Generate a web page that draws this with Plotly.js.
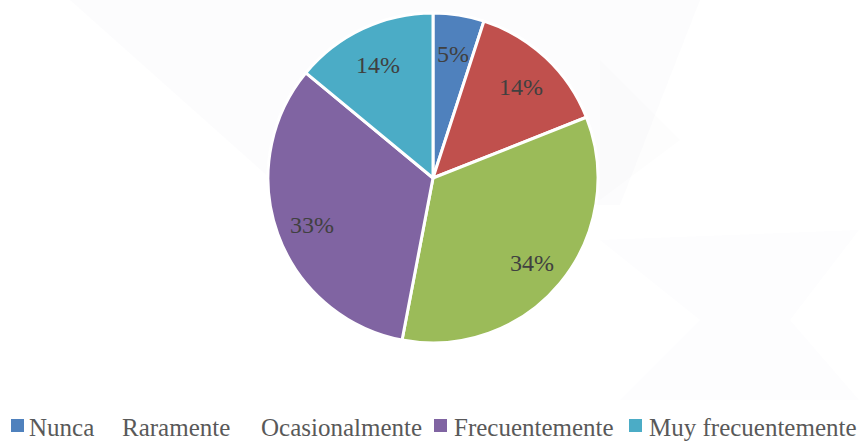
<!DOCTYPE html>
<html>
<head>
<meta charset="utf-8">
<script src="https://cdn.plot.ly/plotly-3.0.1.min.js"></script>
<style>html,body{margin:0;padding:0;background:#fff;}#chart{width:859px;height:441px;}</style>
</head>
<body>
<div id="chart"></div>
<script>
// Data
const categories = ["Nunca", "Raramente", "Ocasionalmente", "Frecuentemente", "Muy frecuentemente"];
const values = [5, 14, 34, 33, 14];
const colors = ["#4F81BD", "#C0504D", "#9BBB59", "#8064A2", "#4BACC6"];
const legendShowMarker = [true, false, false, true, true];

const W = 859, H = 441;
const px = x => x / W;
const py = y => 1 - y / H;

// pie geometry (layout)
const pieL = 268, pieR = 598, pieT = 13, pieB = 343;
const cx = (pieL + pieR) / 2, cy = (pieT + pieB) / 2, rad = (pieR - pieL) / 2;

// percentage labels placed from the data
const total = values.reduce((a, b) => a + b, 0);
const annotations = [];
let cum = 0;
values.forEach((v, i) => {
  const mid = (cum + v / 2) / total * 2 * Math.PI;
  cum += v;
  const k = 0.78;
  const x = cx + k * rad * Math.sin(mid);
  const y = cy - k * rad * Math.cos(mid) + 3;
  annotations.push({
    xref: "paper", yref: "paper", x: px(x), y: py(y),
    xanchor: "center", yanchor: "middle", showarrow: false,
    text: Math.round(v / total * 100) + "%",
    font: {family: "Liberation Serif, serif", size: 24, color: "#404040"}
  });
});

// custom legend (layout positions)
const legendMarkerX = [11, 105, 244, 434, 629];
const legendTextX = [27, 120, 259, 452, 647];
const legendY = 427;
const shapes = [
  {type: "path", xref: "paper", yref: "paper", layer: "below", line: {width: 0},
   fillcolor: "rgba(120,110,130,0.018)",
   path: `M ${px(70)} ${py(0)} L ${px(300)} ${py(205)} L ${px(620)} ${py(205)} L ${px(700)} ${py(0)} Z`},
  {type: "path", xref: "paper", yref: "paper", layer: "below", line: {width: 0},
   fillcolor: "rgba(120,110,130,0.014)",
   path: `M ${px(600)} ${py(60)} L ${px(680)} ${py(140)} L ${px(600)} ${py(200)} Z`},
  {type: "path", xref: "paper", yref: "paper", layer: "below", line: {width: 0},
   fillcolor: "rgba(120,110,130,0.012)",
   path: `M ${px(600)} ${py(240)} L ${px(700)} ${py(320)} L ${px(620)} ${py(400)} L ${px(859)} ${py(400)} L ${px(790)} ${py(320)} L ${px(859)} ${py(230)} Z`}
];
categories.forEach((c, i) => {
  const x0 = legendMarkerX[i];
  if (legendShowMarker[i]) {
    shapes.push({type: "rect", xref: "paper", yref: "paper",
      x0: px(x0), x1: px(x0 + 13), y0: py(419), y1: py(432),
      fillcolor: colors[i], line: {width: 0}});
  }
  annotations.push({
    xref: "paper", yref: "paper", x: px(legendTextX[i]), y: py(legendY),
    xanchor: "left", yanchor: "middle", showarrow: false, text: c,
    font: {family: "Liberation Serif, serif", size: 25, color: "#595959"}
  });
});

const trace = {
  type: "pie",
  labels: categories,
  values: values,
  sort: false,
  direction: "clockwise",
  rotation: 0,
  textinfo: "none",
  hoverinfo: "label+percent",
  marker: {colors: colors, line: {color: "#ffffff", width: 3}},
  domain: {x: [px(pieL), px(pieR)], y: [py(pieB), py(pieT)]},
  showlegend: false
};

const layout = {
  width: W, height: H,
  margin: {l: 0, r: 0, t: 0, b: 0},
  paper_bgcolor: "#ffffff",
  showlegend: false,
  annotations: annotations,
  shapes: shapes
};

Plotly.newPlot("chart", [trace], layout, {displayModeBar: false, staticPlot: true});
</script>
</body>
</html>
